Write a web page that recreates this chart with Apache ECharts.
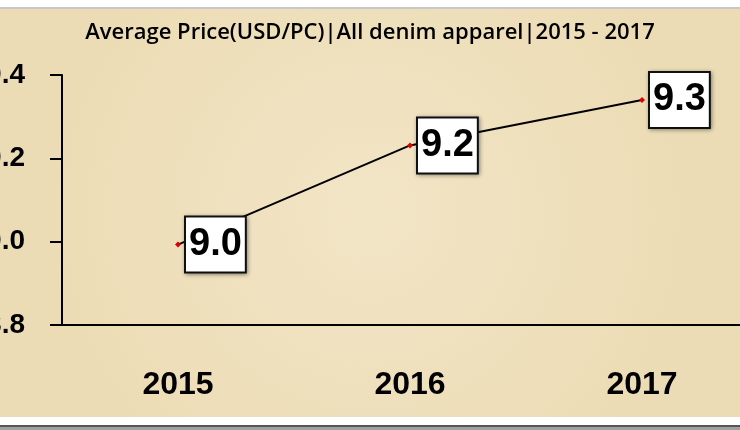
<!DOCTYPE html>
<html>
<head>
<meta charset="utf-8">
<script src="https://cdn.jsdelivr.net/npm/echarts@6/dist/echarts.min.js"></script>
<style>
html,body{margin:0;padding:0;background:#fff;}
#c{width:740px;height:430px;}
</style>
</head>
<body>
<div id="c"></div>
<script>
var titleText = 'Average Price(USD/PC)|All denim apparel|2015 - 2017';
var categories = ['2015', '2016', '2017'];
var prices = [8.993, 9.231, 9.340];
var priceLabels = ['9.0', '9.2', '9.3'];
var yTicks = [8.8, 9.0, 9.2, 9.4];

var chart = echarts.init(document.getElementById('c'));
chart.setOption({
  backgroundColor: '#ffffff',
  animation: false,
  graphic: [
    {type: 'rect', z: -10, silent: true, shape: {x: 0, y: 7, width: 740, height: 2}, style: {fill: '#c8c8c8'}},
    {type: 'rect', z: -10, silent: true, shape: {x: 0, y: 9, width: 740, height: 408},
      style: {fill: {type: 'radial', x: 0.5, y: 0.5, r: 0.8,
        colorStops: [{offset: 0, color: '#f2e5c6'}, {offset: 1, color: '#ecdcb5'}]}}},
    {type: 'rect', z: -10, silent: true, shape: {x: 0, y: 425, width: 740, height: 2}, style: {fill: '#555555'}},
    {type: 'rect', z: -10, silent: true, shape: {x: 0, y: 427, width: 740, height: 3}, style: {fill: '#a0a0a0'}}
  ],
  title: {
    text: titleText,
    left: 'center',
    top: 17,
    textStyle: {fontFamily: 'Open Sans', fontWeight: 600, fontSize: 22, color: '#000'}
  },
  grid: {left: 62, top: 75, width: 696, height: 250, containLabel: false, outerBoundsMode: 'none'},
  xAxis: {
    type: 'category',
    data: categories,
    boundaryGap: true,
    axisLine: {lineStyle: {color: '#000', width: 2}},
    axisTick: {show: false},
    axisLabel: {margin: 44, fontFamily: 'Liberation Sans', fontWeight: 'bold', fontSize: 32, color: '#000'}
  },
  yAxis: {
    type: 'value',
    min: 8.8,
    max: 9.4,
    interval: 0.2,
    splitLine: {show: false},
    axisLine: {show: true, lineStyle: {color: '#000', width: 2}},
    axisTick: {show: true, length: 12, lineStyle: {color: '#000', width: 2}},
    axisLabel: {
      margin: 37,
      fontFamily: 'Liberation Sans', fontWeight: 'bold', fontSize: 28, color: '#000',
      formatter: function (v) { return v.toFixed(1); }
    }
  },
  series: [{
    type: 'line',
    data: prices,
    symbol: 'diamond',
    symbolSize: 6,
    itemStyle: {color: '#e00000'},
    lineStyle: {color: '#000', width: 2},
    label: {
      show: true,
      position: 'right',
      distance: 5,
      formatter: function (p) { return priceLabels[p.dataIndex]; },
      fontFamily: 'Liberation Sans', fontWeight: 'bold', fontSize: 38, color: '#000',
      backgroundColor: '#ffffff',
      borderColor: '#111',
      borderWidth: 2,
      padding: [7, 3, 5, 3],
      lineHeight: 42,
      shadowColor: 'rgba(0,0,0,0.35)',
      shadowBlur: 4,
      shadowOffsetX: 1,
      shadowOffsetY: 1
    }
  }]
});
</script>
</body>
</html>
